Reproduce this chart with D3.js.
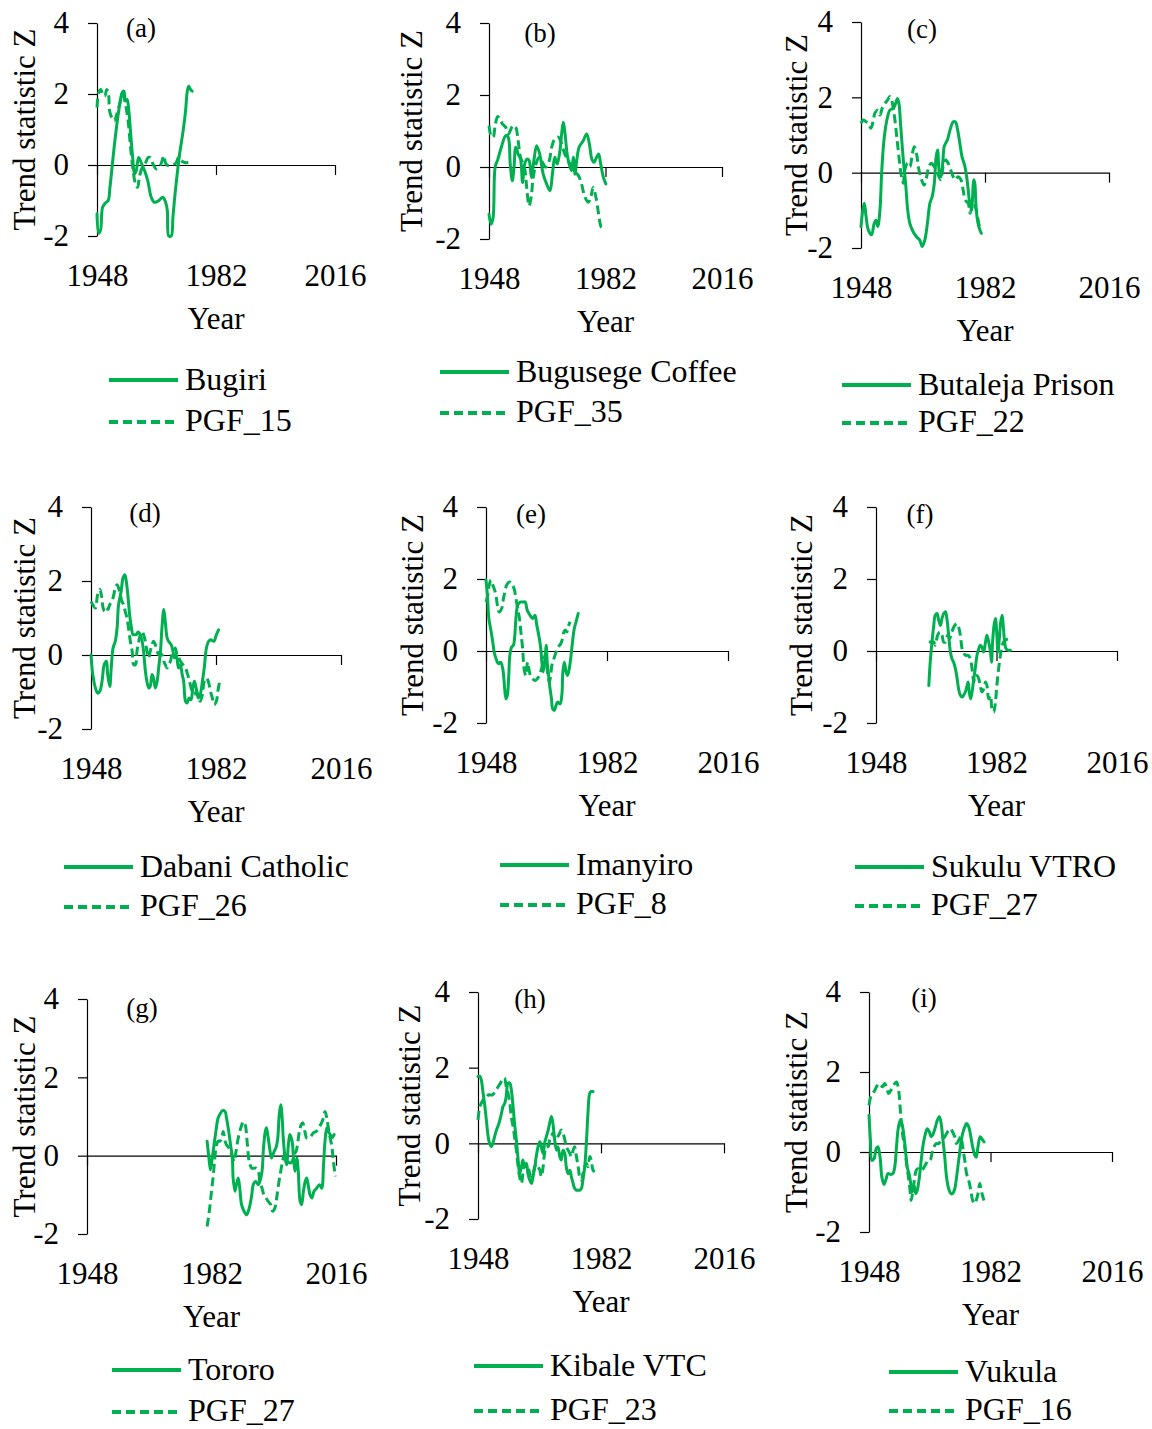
<!DOCTYPE html>
<html>
<head>
<meta charset="utf-8">
<script src="https://cdn.jsdelivr.net/npm/d3@7"></script>
<style>
  html, body { margin: 0; padding: 0; background: #ffffff; }
  svg { display: block; }
  text { font-family: "Liberation Serif", "Times New Roman", serif; fill: #000; }
</style>
</head>
<body>
<svg id="chart" width="1152" height="1429"></svg>
<script>
// ---- shared axis settings ----
const yearTicks = [1948, 1982, 2016];
const zTicks = [-2, 0, 2, 4];
const panelLetters = ["(a)", "(b)", "(c)", "(d)", "(e)", "(f)", "(g)", "(h)", "(i)"];
const stationNames = ["Bugiri", "Bugusege Coffee", "Butaleja Prison", "Dabani Catholic",
  "Imanyiro", "Sukulu VTRO", "Tororo", "Kibale VTC", "Vukula"];
const pgfNames = ["PGF_15", "PGF_35", "PGF_22", "PGF_26", "PGF_8", "PGF_27", "PGF_27", "PGF_23", "PGF_16"];

// ---- trend statistic Z series: [year, Z] ----
const bugiri = [[1948.0,-1.37],[1948.5,-1.92],[1949.0,-1.84],[1949.6,-1.19],[1950.4,-1.07],[1951.2,-1.0],[1951.7,-0.63],[1953.0,0.59],[1954.2,1.52],[1955.2,2.04],[1955.7,2.08],[1956.1,1.80],[1956.6,1.85],[1957.1,1.52],[1957.7,0.78],[1958.2,0.21],[1958.7,-0.25],[1959.2,-0.16],[1959.9,0.21],[1960.6,0.07],[1961.6,-0.16],[1962.5,-0.44],[1963.5,-0.91],[1964.4,-1.05],[1965.7,-1.0],[1966.8,-0.91],[1967.6,-1.05],[1968.1,-1.28],[1968.5,-2.0],[1969.2,-2.0],[1969.7,-1.47],[1970.2,-0.91],[1970.8,-0.35],[1971.6,0.31],[1972.6,0.96],[1973.3,1.52],[1973.8,2.08],[1974.2,2.22],[1974.7,2.13],[1975.2,2.08]];
const pgf15 = [[1948.0,1.62],[1948.5,2.04],[1949.1,2.13],[1949.6,1.99],[1950.2,1.94],[1950.8,2.13],[1951.3,1.99],[1951.6,1.52],[1952.2,1.34],[1953.0,1.24],[1953.4,1.34],[1953.9,1.52],[1954.6,1.76],[1955.2,1.99],[1955.7,1.90],[1956.3,1.62],[1956.9,1.24],[1957.5,0.59],[1958.2,-0.07],[1959.0,-0.53],[1959.6,-0.63],[1960.1,-0.35],[1960.9,-0.07],[1961.9,0.07],[1962.6,0.21],[1963.2,0.21],[1964.0,0.03],[1964.9,-0.11],[1965.9,-0.05],[1966.6,0.12],[1967.1,0.26],[1967.7,0.03],[1968.5,-0.02],[1969.5,0.01],[1970.5,0.05],[1971.3,0.21],[1972.1,0.12],[1973.0,0.07],[1974.1,0.07]];

const bugusege = [[1948.0,-1.31],[1948.6,-1.59],[1949.2,-1.4],[1949.8,0.0],[1950.6,0.22],[1951.6,0.55],[1952.9,0.87],[1953.6,0.83],[1954.2,0.08],[1954.8,-0.38],[1955.3,-0.01],[1955.8,0.55],[1956.5,0.36],[1957.2,0.22],[1957.8,-0.43],[1958.4,0.08],[1959.1,0.22],[1959.7,0.18],[1960.4,-0.29],[1961.1,0.18],[1961.9,0.59],[1962.8,0.36],[1963.8,-0.19],[1964.8,-0.47],[1965.8,-0.66],[1966.5,-0.2],[1967.2,0.27],[1967.9,0.08],[1968.7,0.45],[1969.3,1.01],[1969.7,1.24],[1970.2,0.92],[1970.8,0.36],[1971.4,0.08],[1972.1,-0.1],[1972.6,0.27],[1973.1,-0.2],[1973.6,0.18],[1974.3,0.55],[1975.5,0.73],[1976.5,0.92],[1977.3,0.64],[1978.0,0.22],[1978.6,0.13],[1979.4,0.27],[1980.0,0.36],[1980.6,0.08],[1981.4,-0.29],[1982.1,-0.47]];
const pgf35 = [[1948.0,1.15],[1948.6,0.87],[1949.2,0.83],[1949.8,1.15],[1950.5,1.40],[1951.1,1.34],[1951.9,1.2],[1952.9,1.1],[1953.7,0.92],[1954.2,1.01],[1955.0,1.15],[1955.8,1.1],[1956.5,0.73],[1957.2,0.27],[1958.0,0.08],[1958.5,-0.1],[1959.1,-0.66],[1959.7,-1.08],[1960.3,-0.84],[1960.9,-0.29],[1961.7,0.08],[1962.6,0.27],[1963.6,0.13],[1964.6,0.0],[1965.6,0.18],[1966.3,0.55],[1967.2,0.78],[1968.2,0.83],[1969.2,0.64],[1970.1,0.36],[1971.1,0.18],[1972.1,0.0],[1973.2,-0.15],[1974.1,-0.24],[1975.0,-0.47],[1976.0,-0.84],[1977.0,-0.98],[1977.7,-0.84],[1978.4,-0.57],[1979.2,-0.84],[1980.0,-1.31],[1980.8,-1.68],[1981.4,-1.7]];

const butaleja = [[1948.0,-1.43],[1948.5,-0.99],[1948.9,-0.81],[1949.4,-1.17],[1950.0,-1.52],[1950.9,-1.65],[1951.6,-1.35],[1952.1,-1.26],[1952.6,-1.43],[1953.2,-0.99],[1953.7,0.07],[1954.4,0.96],[1955.3,1.49],[1955.9,1.66],[1956.9,1.71],[1957.5,1.84],[1958.0,1.97],[1958.4,1.84],[1958.9,1.22],[1959.6,0.34],[1960.3,-0.37],[1960.8,-0.99],[1961.4,-1.35],[1962.3,-1.57],[1963.2,-1.7],[1964.1,-1.79],[1964.8,-1.96],[1965.5,-1.79],[1966.2,-1.35],[1966.9,-0.81],[1967.5,-0.64],[1968.1,-0.28],[1968.6,0.42],[1969.0,0.6],[1969.4,0.07],[1969.9,-0.11],[1970.4,0.25],[1970.8,0.69],[1971.2,0.78],[1971.7,0.87],[1972.4,1.13],[1973.3,1.35],[1973.9,1.35],[1974.5,1.13],[1975.1,0.78],[1975.7,0.42],[1976.5,0.16],[1977.2,-0.28],[1977.7,-0.73],[1978.3,-0.99],[1978.6,-0.64],[1978.9,-0.19],[1979.2,-0.28],[1979.6,-0.99],[1980.1,-1.35],[1980.6,-1.52],[1981.0,-1.61]];
const pgf22 = [[1948.0,1.31],[1948.6,1.4],[1949.3,1.36],[1950.0,1.31],[1950.7,1.18],[1951.4,1.4],[1951.8,1.58],[1952.6,1.66],[1953.2,1.53],[1953.8,1.71],[1954.6,1.84],[1955.3,1.93],[1955.9,2.02],[1956.4,1.93],[1956.9,1.66],[1957.3,1.4],[1957.8,0.96],[1958.4,0.42],[1959.1,-0.11],[1959.6,-0.28],[1960.0,0.07],[1960.8,0.25],[1961.4,0.16],[1962.1,0.51],[1962.6,0.69],[1963.2,0.51],[1963.9,0.07],[1964.6,-0.19],[1965.3,-0.33],[1966.0,-0.11],[1966.6,0.16],[1967.3,0.25],[1968.1,0.16],[1968.7,0.07],[1969.4,-0.11],[1969.9,-0.19],[1970.5,0.16],[1971.2,0.34],[1971.9,0.25],[1972.6,0.07],[1973.3,-0.11],[1973.9,-0.19],[1974.6,-0.11],[1975.4,-0.19],[1976.0,-0.46],[1976.6,-0.73],[1977.4,-0.81],[1977.9,-1.08],[1978.5,-0.9],[1979.0,-0.81],[1979.6,-0.99],[1980.3,-1.35],[1980.8,-1.52]];

const dabani = [[1948.0,0.0],[1948.5,-0.53],[1949.2,-0.89],[1949.8,-1.03],[1950.4,-0.98],[1951.0,-0.71],[1951.6,-0.26],[1952.2,-0.17],[1952.5,-0.5],[1953.1,-0.85],[1953.5,-0.35],[1954.0,0.19],[1954.6,0.37],[1955.1,0.73],[1955.5,1.36],[1956.2,1.72],[1956.7,2.08],[1957.2,2.17],[1957.6,1.99],[1958.1,1.54],[1958.5,1.09],[1959.0,0.73],[1959.4,0.55],[1959.9,0.55],[1960.3,0.55],[1960.8,0.62],[1961.4,0.55],[1961.9,0.37],[1962.3,0.1],[1962.8,-0.44],[1963.2,-0.71],[1963.7,-0.89],[1964.1,-0.85],[1964.6,-0.53],[1965.0,-0.62],[1965.5,-0.89],[1966.0,-0.71],[1966.4,-0.35],[1966.9,0.1],[1967.3,0.73],[1967.8,1.23],[1968.2,0.91],[1968.7,0.46],[1969.1,0.37],[1969.8,0.28],[1970.3,0.1],[1970.7,-0.08],[1971.2,0.0],[1971.8,-0.35],[1972.3,-0.26],[1972.8,-0.53],[1973.2,-0.71],[1973.7,-1.25],[1974.1,-1.3],[1974.7,-1.16],[1975.2,-1.21],[1975.7,-0.89],[1976.1,-0.71],[1976.6,-0.89],[1977.2,-1.16],[1977.7,-1.07],[1978.3,-0.71],[1978.8,-0.35],[1979.4,0.19],[1980.0,0.37],[1980.6,0.41],[1981.4,0.37],[1982.1,0.55],[1982.7,0.68]];
const pgf26 = [[1948.0,1.45],[1948.5,1.36],[1949.2,1.27],[1949.8,1.63],[1950.4,1.77],[1950.8,1.63],[1951.3,1.27],[1951.7,1.18],[1952.2,1.27],[1952.6,1.23],[1953.1,1.36],[1953.7,1.45],[1954.2,1.63],[1954.6,1.81],[1955.1,1.9],[1955.5,1.81],[1956.0,1.63],[1956.4,1.45],[1956.9,1.36],[1957.3,1.18],[1957.8,1.0],[1958.2,0.73],[1958.7,0.37],[1959.2,0.1],[1959.6,-0.26],[1960.1,-0.26],[1960.5,0.1],[1961.0,0.37],[1961.4,0.55],[1961.9,0.64],[1962.3,0.55],[1962.8,0.37],[1963.2,0.1],[1963.7,-0.08],[1964.1,0.1],[1964.6,0.28],[1965.0,0.37],[1965.5,0.28],[1966.0,0.1],[1966.4,0.01],[1966.9,0.01],[1967.3,0.01],[1967.8,-0.17],[1968.2,-0.26],[1968.7,-0.35],[1969.1,-0.26],[1969.6,-0.17],[1970.0,0.01],[1970.5,0.1],[1970.9,0.19],[1971.4,0.01],[1971.9,-0.08],[1972.3,-0.17],[1973.0,-0.26],[1973.7,-0.35],[1974.3,-0.53],[1974.8,-0.71],[1975.5,-0.98],[1976.1,-1.07],[1976.7,-0.98],[1977.2,-1.16],[1977.7,-1.25],[1978.3,-1.07],[1978.8,-0.71],[1979.4,-0.62],[1979.9,-0.71],[1980.5,-0.98],[1981.0,-1.16],[1981.5,-1.34],[1982.1,-1.25],[1982.5,-0.98],[1983.0,-0.71]];

const imanyiro = [[1948.0,1.97],[1948.4,1.55],[1948.8,0.9],[1949.3,0.62],[1949.9,0.25],[1950.3,-0.03],[1950.8,-0.21],[1951.5,-0.35],[1952.1,-0.31],[1952.7,-0.49],[1953.1,-0.86],[1953.6,-1.33],[1954.0,-1.23],[1954.4,-0.68],[1954.7,-0.12],[1955.2,0.11],[1955.7,0.16],[1956.1,0.44],[1956.4,0.9],[1956.9,1.27],[1957.6,1.36],[1958.3,1.36],[1959.0,1.36],[1959.6,1.13],[1960.4,0.99],[1961.1,0.9],[1961.8,0.99],[1962.2,0.76],[1963.0,0.34],[1963.4,0.06],[1963.7,-0.31],[1964.1,-0.58],[1964.6,-0.21],[1964.9,0.16],[1965.2,-0.31],[1965.6,-0.68],[1966.0,-1.05],[1966.4,-1.33],[1966.7,-1.6],[1967.2,-1.65],[1967.7,-1.51],[1968.1,-1.42],[1968.8,-1.47],[1969.3,-1.23],[1969.6,-0.58],[1970.0,-0.31],[1970.5,-0.58],[1970.9,-0.68],[1971.4,-0.49],[1971.9,-0.12],[1972.3,0.25],[1972.8,0.62],[1973.3,0.81],[1973.9,1.04]];
const pgf8 = [[1948.0,1.36],[1948.5,1.55],[1948.9,1.83],[1949.4,1.97],[1949.9,1.83],[1950.3,1.73],[1950.8,1.55],[1951.2,1.27],[1951.7,1.08],[1952.4,1.18],[1952.9,1.46],[1953.3,1.64],[1953.8,1.83],[1954.6,1.92],[1955.2,1.87],[1955.9,1.73],[1956.4,1.46],[1956.9,1.18],[1957.4,0.9],[1957.8,0.53],[1958.3,0.06],[1958.7,-0.49],[1959.2,-0.68],[1959.7,-0.31],[1960.2,-0.58],[1960.5,-0.68],[1961.1,-0.77],[1961.8,-0.82],[1962.4,-0.77],[1963.0,-0.68],[1963.6,-0.49],[1964.1,-0.31],[1964.6,-0.12],[1965.0,-0.31],[1965.4,-0.68],[1965.8,-0.86],[1966.2,-0.68],[1966.5,-0.4],[1967.1,-0.21],[1967.7,-0.03],[1968.3,0.11],[1969.0,0.2],[1969.5,0.34],[1969.9,0.53],[1970.3,0.58],[1970.7,0.53],[1971.1,0.67],[1971.6,0.81]];

const sukulu = [[1962.9,-0.96],[1963.3,-0.31],[1963.8,0.25],[1964.3,0.71],[1964.7,0.99],[1965.2,1.04],[1965.7,0.85],[1966.2,0.71],[1966.6,0.9],[1967.1,1.04],[1967.6,1.09],[1968.0,0.9],[1968.5,0.44],[1969.0,-0.03],[1969.4,-0.21],[1969.9,-0.31],[1970.4,-0.49],[1970.9,-0.77],[1971.3,-1.05],[1971.8,-1.23],[1972.3,-1.28],[1972.7,-1.23],[1973.2,-1.14],[1973.7,-0.96],[1974.0,-0.86],[1974.3,-1.14],[1974.7,-1.33],[1975.1,-1.14],[1975.6,-0.77],[1976.0,-0.49],[1976.5,-0.12],[1977.0,0.06],[1977.4,0.16],[1977.9,0.11],[1978.4,-0.03],[1978.9,0.25],[1979.3,0.44],[1979.8,0.25],[1980.3,-0.03],[1980.6,-0.31],[1980.9,0.25],[1981.3,0.71],[1981.7,0.9],[1982.1,0.44],[1982.4,-0.03],[1982.8,0.35],[1983.2,0.81],[1983.6,0.99],[1983.9,0.71],[1984.3,0.25],[1984.7,0.06],[1985.3,0.02],[1985.9,0.02]];
const pgf27f = [[1962.9,0.25],[1963.6,0.25],[1964.3,0.25],[1964.7,0.16],[1965.4,0.44],[1966.0,0.53],[1966.6,0.44],[1967.1,0.25],[1967.6,0.25],[1968.2,0.44],[1968.8,0.35],[1969.4,0.53],[1970.2,0.71],[1970.9,0.76],[1971.3,0.67],[1971.8,0.44],[1972.3,0.06],[1972.7,-0.03],[1973.2,-0.12],[1974.0,-0.12],[1974.6,-0.21],[1975.1,-0.49],[1975.6,-0.86],[1976.0,-0.68],[1976.5,-0.68],[1977.0,-0.77],[1977.4,-0.96],[1977.9,-1.14],[1978.4,-1.05],[1978.9,-0.86],[1979.3,-0.96],[1979.8,-1.33],[1980.3,-1.24],[1980.7,-1.6],[1981.2,-1.7],[1981.7,-1.42],[1982.1,-0.96],[1982.6,-0.49],[1983.1,-0.12],[1983.6,0.16],[1984.0,0.25],[1984.5,0.3],[1985.3,0.34],[1985.9,0.34]];

const tororo = [[1980.8,0.37],[1981.3,-0.06],[1981.7,-0.36],[1982.2,-0.06],[1982.7,0.28],[1983.2,0.62],[1983.8,0.96],[1984.5,1.09],[1985.0,1.15],[1985.7,1.13],[1986.1,0.96],[1986.7,0.62],[1987.2,0.28],[1987.7,-0.06],[1987.9,-0.57],[1988.4,-0.91],[1988.8,-0.74],[1989.3,-0.57],[1989.8,-0.91],[1990.2,-1.25],[1990.9,-1.42],[1991.6,-1.51],[1992.3,-1.34],[1993.0,-1.0],[1993.4,-0.74],[1994.1,-0.66],[1994.8,-0.74],[1995.2,-0.66],[1995.8,-0.4],[1996.2,0.2],[1996.7,0.62],[1997.0,0.71],[1997.5,0.45],[1998.0,0.11],[1998.4,-0.06],[1999.1,0.11],[1999.6,0.2],[2000.1,0.45],[2000.5,1.05],[2000.9,1.3],[2001.3,0.96],[2001.6,0.45],[2002.1,-0.06],[2002.5,-0.23],[2003.0,0.28],[2003.4,0.54],[2004.0,0.37],[2004.4,-0.06],[2004.8,-0.4],[2005.3,-0.06],[2005.7,-0.4],[2006.2,-1.17],[2006.6,-1.25],[2007.1,-0.91],[2007.6,-0.66],[2008.0,-0.57],[2008.5,-0.8],[2008.9,-1.0],[2009.4,-1.08],[2010.0,-0.91],[2010.7,-0.83],[2011.5,-0.74],[2012.1,-0.83],[2012.6,-0.23],[2013.0,0.37],[2013.5,0.71],[2013.9,0.62],[2014.4,0.54],[2014.8,0.45],[2015.5,0.54]];
const pgf27g = [[1980.8,-1.81],[1981.4,-1.42],[1982.0,-0.91],[1982.5,-0.49],[1982.9,-0.06],[1983.4,0.28],[1983.8,0.37],[1984.3,0.37],[1984.8,0.45],[1985.2,0.62],[1985.7,0.37],[1986.1,0.28],[1986.7,0.2],[1987.2,0.11],[1987.8,-0.06],[1988.2,-0.15],[1988.7,0.11],[1989.3,0.45],[1990.0,0.71],[1990.7,0.87],[1991.2,0.79],[1991.8,0.28],[1992.3,-0.15],[1993.0,-0.32],[1993.6,-0.32],[1994.1,-0.32],[1994.8,-0.4],[1995.2,-0.66],[1995.8,-0.83],[1996.3,-1.0],[1996.9,-1.08],[1997.5,-1.17],[1998.2,-1.25],[1998.7,-1.42],[1999.3,-1.34],[1999.8,-1.08],[2000.3,-0.74],[2000.9,-0.4],[2001.4,-0.15],[2001.9,0.03],[2002.4,-0.06],[2002.9,-0.15],[2003.4,-0.19],[2004.0,-0.15],[2004.5,0.03],[2005.1,0.11],[2005.6,0.37],[2006.0,0.62],[2006.5,0.79],[2006.9,0.84],[2007.5,0.62],[2008.0,0.45],[2008.6,0.45],[2009.1,0.49],[2009.8,0.58],[2010.6,0.62],[2011.2,0.71],[2011.8,0.79],[2012.4,0.92],[2013.0,1.13],[2013.5,0.96],[2013.9,0.71],[2014.4,0.45],[2014.8,0.28],[2015.3,-0.15],[2015.8,-0.53]];

const kibale = [[1948.0,1.77],[1948.5,1.77],[1948.9,1.68],[1949.4,1.33],[1949.8,1.06],[1950.3,0.62],[1950.8,0.18],[1951.2,0.0],[1951.7,-0.09],[1952.1,0.0],[1952.6,0.18],[1953.1,0.35],[1953.8,0.53],[1954.5,0.8],[1954.9,0.97],[1955.4,1.06],[1955.8,1.24],[1956.3,1.59],[1956.8,1.59],[1957.2,1.42],[1957.7,0.97],[1958.1,0.53],[1958.6,0.09],[1959.1,-0.44],[1959.5,-0.8],[1960.0,-0.62],[1960.4,-0.44],[1960.9,-0.62],[1961.4,-0.53],[1961.8,-0.8],[1962.3,-0.97],[1962.8,-1.06],[1963.2,-0.88],[1963.7,-0.62],[1964.1,-0.35],[1964.6,-0.09],[1965.1,0.04],[1965.5,-0.09],[1966.0,-0.27],[1966.4,0.0],[1966.9,0.18],[1967.4,0.35],[1967.8,0.53],[1968.3,0.71],[1968.7,0.53],[1969.2,0.09],[1969.7,-0.18],[1970.1,-0.09],[1970.6,-0.35],[1971.0,-0.44],[1971.5,-0.18],[1972.0,-0.27],[1972.4,-0.62],[1972.9,-0.8],[1973.4,-0.71],[1973.8,-0.88],[1974.3,-1.06],[1974.7,-1.19],[1975.2,-1.24],[1975.7,-1.24],[1976.1,-1.24],[1976.6,-1.19],[1977.0,-0.97],[1977.5,-0.62],[1978.0,0.09],[1978.4,0.8],[1978.9,1.33],[1979.3,1.37],[1979.8,1.37]];
const pgf23 = [[1948.0,0.62],[1948.5,0.97],[1948.9,1.06],[1949.4,1.15],[1949.8,1.19],[1950.3,1.19],[1950.9,1.28],[1951.4,1.28],[1952.0,1.28],[1952.5,1.33],[1953.1,1.42],[1953.6,1.5],[1954.2,1.59],[1954.7,1.68],[1955.3,1.73],[1955.8,1.5],[1956.3,1.33],[1956.8,1.06],[1957.2,0.71],[1957.7,0.44],[1958.1,0.18],[1958.6,-0.18],[1959.1,-0.62],[1959.5,-0.88],[1960.0,-1.06],[1960.4,-0.8],[1960.9,-0.53],[1961.4,-0.62],[1961.8,-0.62],[1962.3,-0.8],[1962.8,-0.88],[1963.2,-0.8],[1963.7,-0.62],[1964.1,-0.53],[1964.6,-0.62],[1965.1,-0.71],[1965.5,-0.88],[1966.0,-0.62],[1966.4,-0.27],[1966.9,-0.09],[1967.4,-0.09],[1967.8,0.09],[1968.3,0.18],[1968.7,0.27],[1969.2,0.13],[1969.7,0.09],[1970.1,0.18],[1970.6,0.27],[1971.0,0.35],[1971.5,0.27],[1972.0,0.09],[1972.4,-0.09],[1972.9,-0.18],[1973.4,-0.27],[1973.8,-0.35],[1974.3,-0.18],[1974.7,-0.09],[1975.2,-0.35],[1975.7,-0.62],[1976.1,-0.88],[1976.6,-0.97],[1977.0,-0.8],[1977.5,-0.62],[1978.0,-0.53],[1978.4,-0.62],[1978.9,-0.35],[1979.3,-0.44],[1979.8,-0.71],[1980.3,-0.75]];

const vukula = [[1948.0,0.92],[1948.4,0.29],[1948.8,-0.21],[1949.4,-0.17],[1950.0,0.08],[1950.5,0.13],[1951.1,-0.13],[1951.6,-0.63],[1952.2,-0.81],[1952.8,-0.67],[1953.3,-0.54],[1954.1,-0.56],[1954.7,-0.54],[1955.2,-0.38],[1955.7,0.13],[1956.1,0.54],[1956.7,0.79],[1957.2,0.71],[1957.8,0.38],[1958.3,-0.04],[1958.7,-0.38],[1959.2,-0.54],[1959.7,-0.79],[1960.1,-1.0],[1960.6,-0.83],[1961.1,-1.04],[1961.5,-0.96],[1962.1,-0.63],[1962.6,-0.21],[1963.2,0.21],[1963.8,0.46],[1964.3,0.58],[1964.9,0.5],[1965.4,0.38],[1966.0,0.46],[1966.6,0.63],[1967.1,0.79],[1967.7,0.88],[1968.2,0.71],[1968.6,0.38],[1969.2,-0.13],[1969.7,-0.63],[1970.3,-0.92],[1970.9,-1.04],[1971.4,-1.04],[1972.0,-0.92],[1972.5,-0.63],[1973.1,-0.21],[1973.7,0.21],[1974.2,0.46],[1974.8,0.63],[1975.3,0.71],[1975.9,0.63],[1976.5,0.38],[1977.0,0.13],[1977.6,-0.08],[1978.0,-0.13],[1978.5,0.13],[1979.1,0.38],[1979.6,0.33],[1980.2,0.25]];
const pgf16 = [[1948.0,1.17],[1948.5,1.38],[1949.0,1.46],[1949.6,1.54],[1950.1,1.63],[1950.7,1.71],[1951.3,1.67],[1951.8,1.63],[1952.4,1.71],[1952.9,1.63],[1953.5,1.46],[1954.1,1.54],[1954.6,1.63],[1955.2,1.71],[1955.7,1.75],[1956.3,1.54],[1956.7,1.13],[1957.1,0.71],[1957.5,0.38],[1958.0,0.13],[1958.4,-0.21],[1958.9,-0.54],[1959.4,-0.88],[1959.8,-1.21],[1960.3,-0.96],[1960.8,-0.63],[1961.2,-0.46],[1961.7,-0.42],[1962.3,-0.46],[1962.8,-0.46],[1963.4,-0.38],[1964.0,-0.29],[1964.5,-0.21],[1965.1,-0.21],[1965.6,-0.04],[1966.2,0.13],[1966.8,0.21],[1967.5,0.21],[1968.1,0.29],[1968.6,0.33],[1969.2,0.38],[1969.7,0.46],[1970.3,0.54],[1970.9,0.58],[1971.4,0.5],[1972.0,0.38],[1972.5,0.21],[1973.1,0.29],[1973.7,0.38],[1974.2,0.13],[1974.8,-0.21],[1975.3,-0.54],[1975.9,-0.71],[1976.5,-0.96],[1977.0,-1.21],[1977.6,-1.29],[1978.0,-1.21],[1978.5,-1.04],[1979.0,-0.79],[1979.4,-0.96],[1979.9,-1.13],[1980.2,-1.21]];

const stationSeries = [bugiri, bugusege, butaleja, dabani, imanyiro, sukulu, tororo, kibale, vukula];
const pgfSeries = [pgf15, pgf35, pgf22, pgf26, pgf8, pgf27f, pgf27g, pgf23, pgf16];

// ---- page layout of each small chart (pixels) ----
const layout = [
  {left: 97,  right: 335,  top: 23,  bottom: 236,  titleX: 35,  letter: [141, 37],   legend: [109, 380, 422]},
  {left: 489, right: 722,  top: 23,  bottom: 239,  titleX: 422, letter: [540, 42],   legend: [440, 372, 413]},
  {left: 861, right: 1109, top: 22,  bottom: 248,  titleX: 807, letter: [922, 38],   legend: [842, 385, 423]},
  {left: 91,  right: 341,  top: 507, bottom: 729,  titleX: 35,  letter: [145, 522],  legend: [64, 867, 907]},
  {left: 486, right: 728,  top: 507, bottom: 723,  titleX: 423, letter: [531, 523],  legend: [500, 865, 905]},
  {left: 876, right: 1117, top: 507, bottom: 723,  titleX: 812, letter: [920, 523],  legend: [855, 867, 906]},
  {left: 87,  right: 336,  top: 999, bottom: 1234, titleX: 35,  letter: [142, 1017], legend: [112, 1370, 1412]},
  {left: 478, right: 724,  top: 992, bottom: 1219, titleX: 420, letter: [530, 1008], legend: [474, 1366, 1411]},
  {left: 869, right: 1112, top: 992, bottom: 1232, titleX: 807, letter: [924, 1007], legend: [889, 1372, 1411]}
];

const GREEN = "#00b050";
const FONT = 31;
const svg = d3.select("#chart");

layout.forEach((L, i) => {
  const g = svg.append("g");
  const x = d3.scaleLinear().domain([yearTicks[0], yearTicks[yearTicks.length - 1]]).range([L.left, L.right]);
  const y = d3.scaleLinear().domain([zTicks[0], zTicks[zTicks.length - 1]]).range([L.bottom, L.top]);

  // vertical axis
  const yAxis = d3.axisLeft(y).tickValues(zTicks).tickFormat(d => String(d))
    .tickSizeInner(9).tickSizeOuter(0).tickPadding(19);
  const ya = g.append("g").attr("transform", `translate(${L.left},0)`).call(yAxis);
  ya.attr("font-family", null);
  ya.selectAll("path, line").attr("stroke", "#000").attr("stroke-width", 1.2);
  ya.selectAll("text").attr("font-size", FONT).attr("fill", "#000");

  // horizontal axis drawn through Z = 0, its labels hang below the frame
  const y0 = y(0);
  const labelDrop = (L.bottom - y0) + 50 - 0.71 * FONT - 10;
  const xAxis = d3.axisBottom(x).tickValues(yearTicks).tickFormat(d3.format("d"))
    .tickSizeInner(10).tickSizeOuter(0).tickPadding(labelDrop);
  const xa = g.append("g").attr("transform", `translate(0,${y0})`).call(xAxis);
  xa.attr("font-family", null);
  xa.selectAll("path, line").attr("stroke", "#000").attr("stroke-width", 1.2);
  xa.selectAll("text").attr("font-size", FONT).attr("fill", "#000");

  // axis titles
  g.append("text").attr("x", (L.left + L.right) / 2).attr("y", L.bottom + 93)
    .attr("text-anchor", "middle").attr("font-size", FONT).text("Year");
  g.append("text")
    .attr("transform", `translate(${L.titleX},${(L.top + L.bottom) / 2}) rotate(-90)`)
    .attr("text-anchor", "middle").attr("font-size", FONT).text("Trend statistic Z");

  // panel letter
  g.append("text").attr("x", L.letter[0]).attr("y", L.letter[1])
    .attr("text-anchor", "middle").attr("font-size", 27).text(panelLetters[i]);

  // series
  const line = d3.line().x(d => x(d[0])).y(d => y(d[1])).curve(d3.curveCatmullRom.alpha(0.5));
  g.append("path").datum(pgfSeries[i]).attr("d", line)
    .attr("fill", "none").attr("stroke", GREEN).attr("stroke-width", 3)
    .attr("stroke-dasharray", "9,4.5").attr("stroke-linejoin", "round");
  g.append("path").datum(stationSeries[i]).attr("d", line)
    .attr("fill", "none").attr("stroke", GREEN).attr("stroke-width", 3)
    .attr("stroke-linejoin", "round").attr("stroke-linecap", "round");

  // legend
  const [lx, ly1, ly2] = L.legend;
  const lw = 69;
  g.append("line").attr("x1", lx).attr("x2", lx + lw).attr("y1", ly1).attr("y2", ly1)
    .attr("stroke", GREEN).attr("stroke-width", 4);
  g.append("line").attr("x1", lx).attr("x2", lx + lw).attr("y1", ly2).attr("y2", ly2)
    .attr("stroke", GREEN).attr("stroke-width", 4).attr("stroke-dasharray", "9,5");
  g.append("text").attr("x", lx + lw + 7).attr("y", ly1 + 10).attr("font-size", 32).text(stationNames[i]);
  g.append("text").attr("x", lx + lw + 7).attr("y", ly2 + 9).attr("font-size", 32).text(pgfNames[i]);
});
</script>
</body>
</html>
